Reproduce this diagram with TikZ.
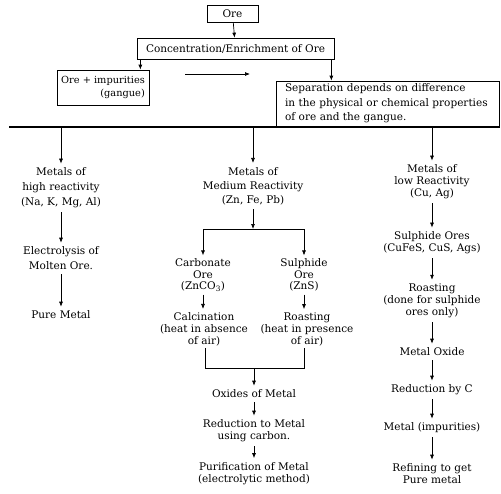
\documentclass[tikz,border=0pt]{standalone}
\usepackage{fontspec}
\setmainfont{DejaVu Serif}
\usetikzlibrary{arrows.meta}
\begin{document}
\begin{tikzpicture}[x=1pt,y=-1pt,
  font=\fontsize{10.5}{12}\selectfont,
  box/.style={draw, line width=0.7pt, inner sep=2pt},
  txt/.style={align=center, inner xsep=1pt, inner ysep=4pt},
  arr/.style={-{Latex[length=5pt,width=4pt]}, line width=0.7pt},
  ln/.style={line width=0.7pt}]
\useasboundingbox (0,0) rectangle (501,493);

% top boxes
\node[box, minimum width=51pt, minimum height=17pt] (ore) at (232.5,13.5) {Ore};
\node[box, minimum width=197pt, minimum height=21pt] (conc) at (235.5,48.5) {Concentration/Enrichment of Ore};
\node[box, minimum width=92pt, minimum height=35pt, align=right, inner xsep=3pt,
  font=\fontsize{9.8}{13}\selectfont] (imp) at (103,87.5) {Ore + impurities\\(gangue)};
\node[box, minimum height=45pt, align=left, text width=205pt, inner xsep=9pt,
  font=\fontsize{10.5}{14.5}\selectfont] (sep) at (387.5,103.5)
  {Separation depends on difference\\in the physical or chemical properties\\of ore and the gangue.};

\draw[arr] (ore) -- (conc);
\draw[arr] ([xshift=-9pt]imp.north east |- conc.south) -- ([xshift=-9pt]imp.north east);
\draw[arr] ([xshift=-3pt]conc.south east) -- ([xshift=-3pt]conc.south east |- sep.north);
\coordinate (ma) at (185,74);
\coordinate (mb) at (250,74);
\draw[arr] (ma) -- (mb);

% horizontal divider
\coordinate (hl) at (9,127);
\coordinate (hr) at (500,127);
\draw[line width=1.1pt] (hl) -- (hr);
\coordinate (d1) at (61,127);
\coordinate (d2) at (253,127);
\coordinate (d3) at (432,127);

% left column
\node[txt, font=\fontsize{10.5}{15}\selectfont] (high) at (61,188) {Metals of\\high reactivity\\(Na, K, Mg, Al)};
\node[txt, font=\fontsize{10.5}{15}\selectfont] (elec) at (61,258.5) {Electrolysis of\\Molten Ore.};
\node[txt] (pure) at (61,315) {Pure Metal};
\draw[arr] (d1) -- (high);
\draw[arr] (high) -- (elec);
\draw[arr] (elec) -- (pure);

% middle column
\node[txt, font=\fontsize{10.5}{14}\selectfont] (med) at (253,186) {Metals of\\Medium Reactivity\\(Zn, Fe, Pb)};
\draw[arr] (d2) -- (med);
\coordinate (br) at (253,229);
\coordinate (brl) at (203,229);
\coordinate (brr) at (304,229);
\draw[arr] (med) -- (br);
\draw[ln] (brl) -- (brr);
\node[txt, font=\fontsize{10.5}{11.5}\selectfont, inner ysep=3pt] (carb) at (203,275) {Carbonate\\Ore\\(ZnCO\textsubscript{3})};
\node[txt, font=\fontsize{10.5}{11.5}\selectfont, inner ysep=3pt] (sulo) at (304,275) {Sulphide\\Ore\\(ZnS)};
\draw[arr] (brl) -- (carb);
\draw[arr] (brr) -- (sulo);
\node[txt, inner ysep=3pt] (calc) at (204,329) {Calcination\\(heat in absence\\of air)};
\node[txt, inner ysep=3pt] (roa) at (307,329) {Roasting\\(heat in presence\\of air)};
\draw[arr] (carb) -- (carb |- calc.north);
\draw[arr] (sulo) -- (sulo |- roa.north);
\coordinate (m1) at (205,348);
\coordinate (m2) at (205,368);
\coordinate (m3) at (304,348);
\coordinate (m4) at (304,368);
\coordinate (mc) at (254,368);
\draw[ln] (m1) -- (m2) -- (m4) -- (m3);
\node[txt] (oxm) at (254,394) {Oxides of Metal};
\node[txt] (red) at (254,431) {Reduction to Metal\\using carbon.};
\node[txt] (pur) at (254,473.5) {Purification of Metal\\(electrolytic method)};
\draw[arr] (mc) -- (oxm);
\draw[arr] (oxm) -- (red);
\draw[arr] (red) -- (pur);

% right column
\node[txt] (low) at (432,182) {Metals of\\low Reactivity\\(Cu, Ag)};
\node[txt] (sulores) at (432,243) {Sulphide Ores\\(CuFeS, CuS, Ags)};
\node[txt] (roa2) at (432,301) {Roasting\\(done for sulphide\\ores only)};
\node[txt] (mox) at (432,352) {Metal Oxide};
\node[txt] (redc) at (432,390) {Reduction by C};
\node[txt] (mimp) at (432,428) {Metal (impurities)};
\node[txt] (refi) at (432,474) {Refining to get\\Pure metal};
\draw[arr] (d3) -- (low);
\draw[arr] (low) -- (sulores);
\draw[arr] (sulores) -- (roa2);
\draw[arr] (roa2) -- (mox);
\draw[arr] (mox) -- (redc);
\draw[arr] (redc) -- (mimp);
\draw[arr] (mimp) -- (refi);
\end{tikzpicture}
\end{document}
